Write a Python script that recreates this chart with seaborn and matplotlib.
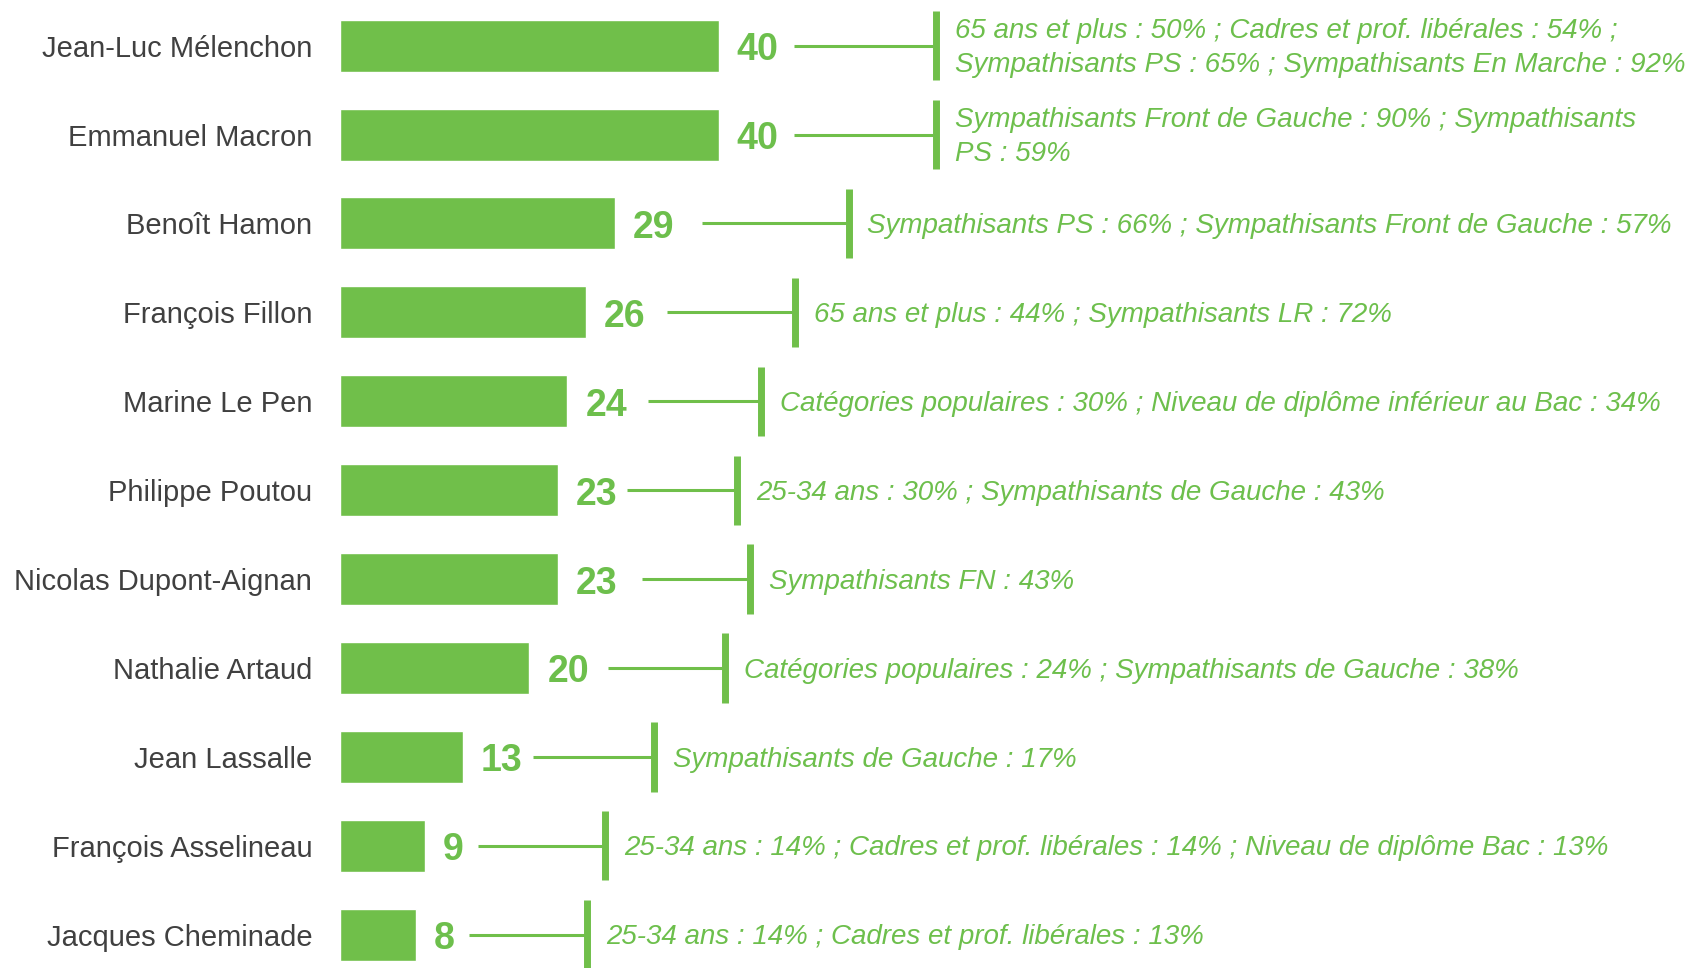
import pandas as pd
import matplotlib.pyplot as plt
import seaborn as sns

# candidates and their score
candidates = ["Jean-Luc Mélenchon", "Emmanuel Macron", "Benoît Hamon", "François Fillon",
              "Marine Le Pen", "Philippe Poutou", "Nicolas Dupont-Aignan", "Nathalie Artaud",
              "Jean Lassalle", "François Asselineau", "Jacques Cheminade"]
scores = [40, 40, 29, 26, 24, 23, 23, 20, 13, 9, 8]

# detail text shown to the right of each bar
details = [
    "65 ans et plus : 50% ; Cadres et prof. libérales : 54% ;\nSympathisants PS : 65% ; Sympathisants En Marche : 92%",
    "Sympathisants Front de Gauche : 90% ; Sympathisants\nPS : 59%",
    "Sympathisants PS : 66% ; Sympathisants Front de Gauche : 57%",
    "65 ans et plus : 44% ; Sympathisants LR : 72%",
    "Catégories populaires : 30% ; Niveau de diplôme inférieur au Bac : 34%",
    "25-34 ans : 30% ; Sympathisants de Gauche : 43%",
    "Sympathisants FN : 43%",
    "Catégories populaires : 24% ; Sympathisants de Gauche : 38%",
    "Sympathisants de Gauche : 17%",
    "25-34 ans : 14% ; Cadres et prof. libérales : 14% ; Niveau de diplôme Bac : 13%",
    "25-34 ans : 14% ; Cadres et prof. libérales : 13%",
]

# layout: where connector line starts and where the bracket sits (offset from bar end)
line_offset = [7.9, 7.9, 9.2, 8.5, 8.5, 7.3, 8.9, 8.3, 7.4, 5.6, 5.6]
bracket_offset = [22.9, 22.9, 24.7, 22.0, 20.5, 18.9, 20.3, 20.7, 20.2, 19.0, 18.1]

green = "#70BF4A"
text_green = "#6DBF4C"
grey = "#404040"

df = pd.DataFrame({"candidate": candidates, "score": scores})

sns.set_style("white")
plt.rcParams['font.family'] = ['Liberation Sans', 'DejaVu Sans']

fig = plt.figure(figsize=(17.05, 9.68), dpi=100)
ax = fig.add_axes([340 / 1705, 0, 1 - 340 / 1705, 1])
sns.barplot(data=df, x="score", y="candidate", color=green, width=0.585,
            saturation=1, ax=ax, orient="h")

ax.set_xlim(0, 1365 / 9.47)
ax.set_ylim(10.375, -0.514)
sns.despine(ax=ax, left=True, bottom=True)
ax.set_xticks([])
ax.set_xlabel("")
ax.set_ylabel("")
ax.tick_params(axis="y", length=0, pad=20)
for lab in ax.get_yticklabels():
    lab.set_fontsize(21)
    lab.set_color(grey)

for i, (v, txt) in enumerate(zip(scores, details)):
    ax.text(v + 1.9, i + 0.05, str(v), va="center", ha="left", fontsize=27,
            fontweight="bold", color=text_green)
    x0 = v + line_offset[i]
    xb = v + bracket_offset[i]
    ax.plot([x0, xb], [i, i], color=green, lw=2.2, solid_capstyle="butt")
    ax.plot([xb, xb], [i - 0.39, i + 0.39], color=green, lw=5, solid_capstyle="butt")
    ax.text(xb + 2.0, i + 0.03, txt, va="center", ha="left", fontsize=20,
            fontstyle="italic", color=text_green, linespacing=1.4)

fig.savefig("out.png", dpi=100)
